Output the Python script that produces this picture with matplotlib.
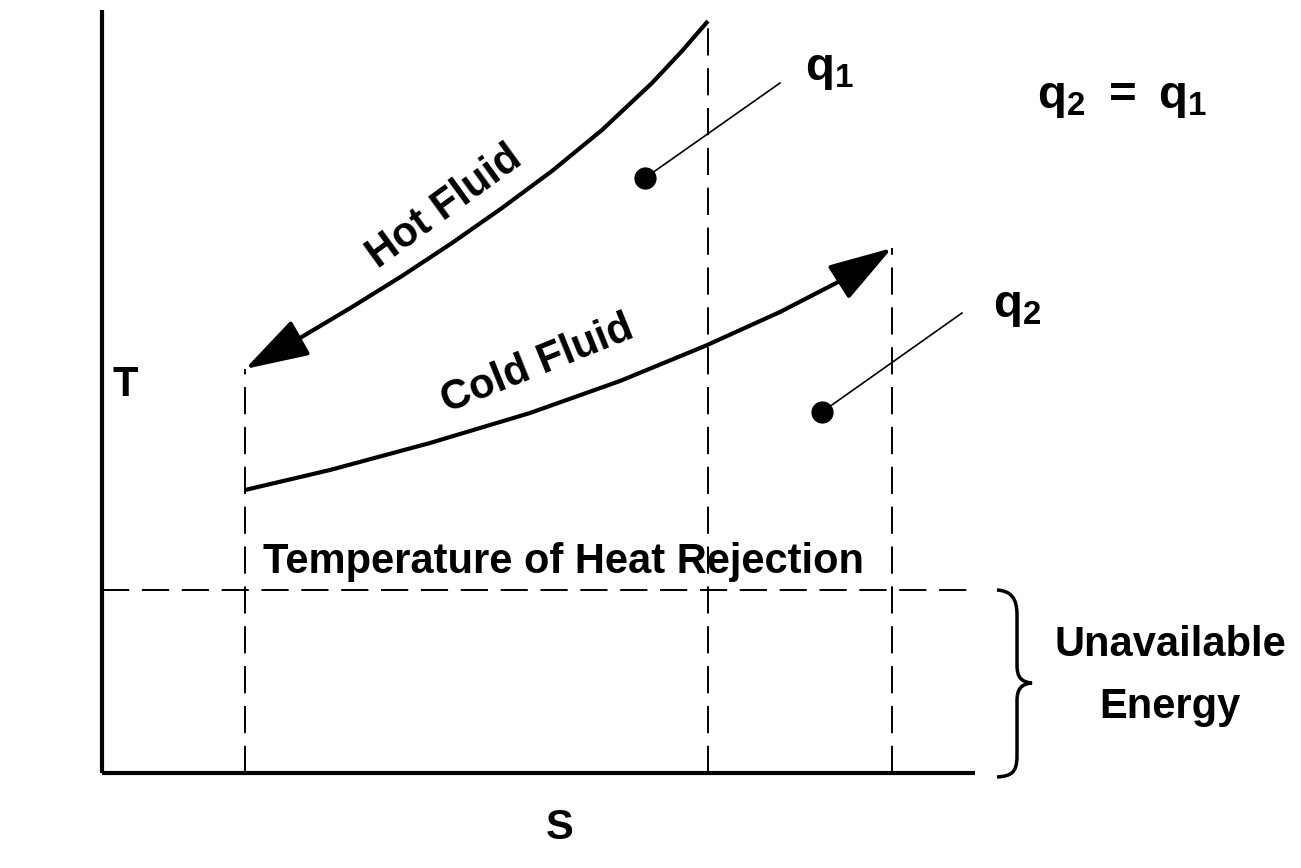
import numpy as np
import matplotlib.pyplot as plt
from matplotlib.path import Path
from matplotlib.patches import PathPatch

plt.rcParams['font.family'] = ['Liberation Sans', 'DejaVu Sans']
plt.rcParams['font.weight'] = 'bold'
plt.rcParams['mathtext.fontset'] = 'custom'
plt.rcParams['mathtext.rm'] = 'Liberation Sans:bold'
plt.rcParams['mathtext.bf'] = 'Liberation Sans:bold'
plt.rcParams['mathtext.it'] = 'Liberation Sans:bold'

# schematic T-S diagram, S to the right, T up (arbitrary units)
s_max, t_max = 873, 763
t_reject = 183

# hot fluid, drawn from the hot end down to the cold end
hot_s = [606, 580, 550, 500, 450, 400, 350, 300, 250, 198]
hot_t = [752, 722, 690, 643, 602, 565, 530, 497, 466, 435]
hot_tip = (143, 404)

# cold fluid, from the cold end up to the hot end
cold_s = [143, 228, 328, 428, 518, 603, 678, 740]
cold_t = [283, 303, 330, 360, 392, 427, 461, 493]
cold_tip = (790, 525)

# vertical dashed lines (S position, top T)
vline_s = [143, 606, 790]
vline_top = [404, 751, 525]

# q markers: dot position and end of the leader line
q1_dot, q1_end = (543, 595), (678, 690)
q2_dot, q2_end = (720, 361), (860, 460)

fig = plt.figure(figsize=(13.01, 8.68), dpi=100)
ax = fig.add_axes([0, 0, 1, 1])
ax.set_xlim(-102, 1199)
ax.set_ylim(-95, 773)
ax.axis('off')

# axes of the diagram
ax.plot([0, 0], [0, t_max], color='k', lw=3, solid_capstyle='butt')
ax.plot([0, s_max], [0, 0], color='k', lw=3, solid_capstyle='butt')

dash = dict(color='k', lw=1.4, dashes=(14, 6.5))
for s, top in zip(vline_s, vline_top):
    ax.plot([s, s], [0, top], **dash)
ax.plot([0, s_max], [t_reject, t_reject], **dash)

# curves with arrow heads
head = dict(arrowstyle='-|>,head_length=0.55,head_width=0.17',
            mutation_scale=72, color='k', lw=3, shrinkA=0, shrinkB=0)
ax.plot(hot_s, hot_t, color='k', lw=3, solid_capstyle='butt', solid_joinstyle='round')
ax.annotate('', xy=hot_tip, xytext=(hot_s[-1], hot_t[-1]), arrowprops=head)
ax.plot(cold_s, cold_t, color='k', lw=3, solid_capstyle='butt', solid_joinstyle='round')
ax.annotate('', xy=cold_tip, xytext=(cold_s[-1], cold_t[-1]), arrowprops=head)

# q dots and leader lines
for dot, end in [(q1_dot, q1_end), (q2_dot, q2_end)]:
    ax.plot([dot[0], end[0]], [dot[1], end[1]], color='k', lw=1.2)
    ax.plot(dot[0], dot[1], 'o', color='k', ms=15)

# brace for unavailable energy
bx, bv, bm = 895, 915, 930
verts = [(bx, t_reject),
         (bx + 14, t_reject - 1), (bv, t_reject - 8), (bv, t_reject - 25),
         (bv, 108),
         (bv, 96), (bv + 4, 91), (bm, 90),
         (bv + 4, 89), (bv, 84), (bv, 72),
         (bv, 17),
         (bv, 0), (bx + 14, -3), (bx, -4)]
codes = [Path.MOVETO,
         Path.CURVE4, Path.CURVE4, Path.CURVE4,
         Path.LINETO,
         Path.CURVE4, Path.CURVE4, Path.CURVE4,
         Path.CURVE4, Path.CURVE4, Path.CURVE4,
         Path.LINETO,
         Path.CURVE4, Path.CURVE4, Path.CURVE4]
ax.add_patch(PathPatch(Path(verts, codes), fill=False, lw=2.5, color='k'))

fs = 30
ax.text(23, 388, 'T', fontsize=fs, ha='center', va='center')
ax.text(458, -55, 'S', fontsize=fs, ha='center', va='center')
ax.text(161, 200, 'Temperature of Heat Rejection', fontsize=fs, ha='left', va='baseline')
ax.text(343, 566, 'Hot Fluid', fontsize=fs, ha='center', va='center', rotation=36)
ax.text(435, 408, 'Cold Fluid', fontsize=fs, ha='center', va='center', rotation=22)
ax.text(703, 703, r'$\mathbf{q_1}$', fontsize=34, ha='left', va='center')
ax.text(935, 675, r'$\mathbf{q_2}\ =\ \mathbf{q_1}$', fontsize=34, ha='left', va='center')
ax.text(891, 466, r'$\mathbf{q_2}$', fontsize=34, ha='left', va='center')
ax.text(1068, 128, 'Unavailable', fontsize=fs, ha='center', va='center')
ax.text(1068, 66, 'Energy', fontsize=fs, ha='center', va='center')

fig.savefig('out.png', dpi=100)
